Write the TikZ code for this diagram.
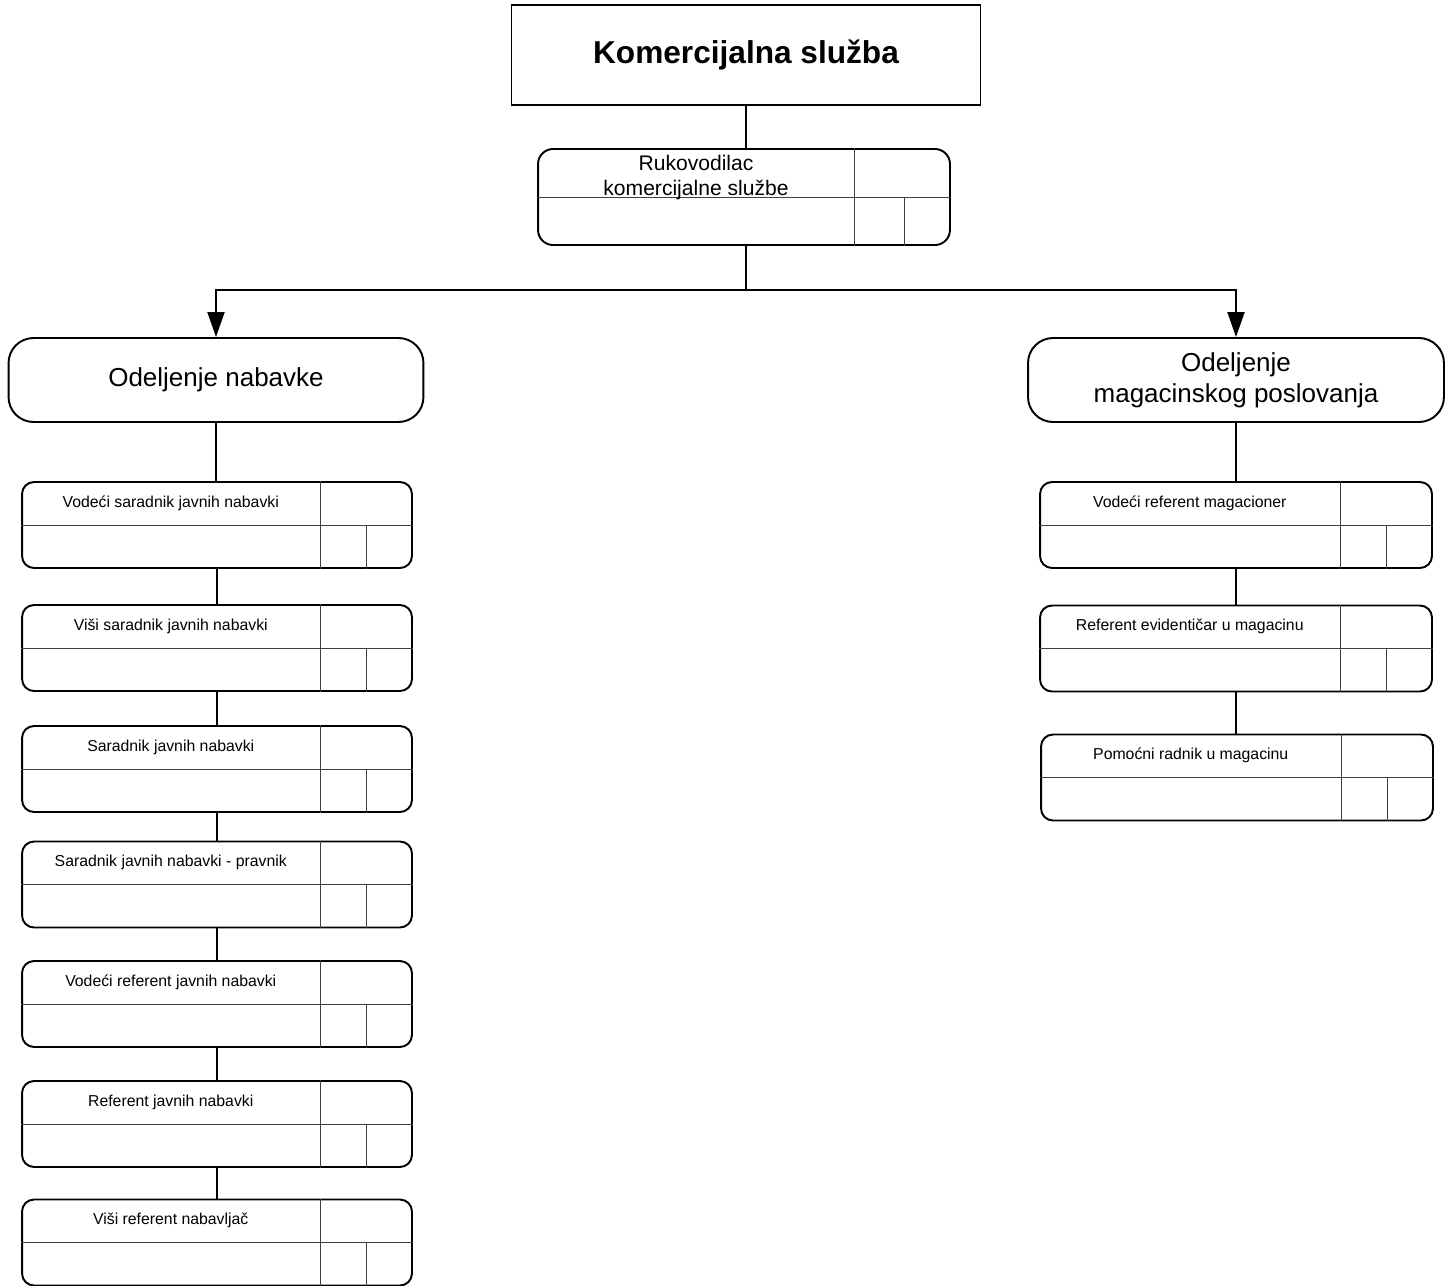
\documentclass[tikz,border=0pt]{standalone}
\usepackage{fontspec}
\setmainfont{Liberation Sans}
\usetikzlibrary{calc,arrows.meta}
\tikzset{polje/.store in=\poljesirina, polje=1.85cm}
% radno mesto: okvir sa poljima, naziv u gornjem levom polju
\newcommand{\radnik}[4][]{%
\node[radbox,#1] (#2) at #3 {};
\draw[pregrada] (#2.west)--(#2.east);
\draw[pregrada] ([xshift=-\poljesirina]#2.north east)--([xshift=-\poljesirina]#2.south east);
\draw[pregrada] ([xshift=-0.92cm]#2.east)--([xshift=-0.92cm]#2.south east);
\node[radtekst] (#2-t) at ($(#2.north west)!.5!([xshift=-\poljesirina]#2.east)$) {#4};
}
\begin{document}
\begin{tikzpicture}[x=0.02cm,y=-0.02cm,
  sluzba/.style={draw, line width=.6pt, minimum width=9.38cm, minimum height=2cm, font=\fontsize{18}{22}\selectfont\bfseries},
  odeljenje/.style={draw, line width=1.1pt, rounded corners=0.5cm, minimum width=8.3cm, minimum height=1.68cm, align=center, font=\fontsize{14.8}{17.6}\selectfont},
  radbox/.style={draw, line width=1.1pt, rounded corners=0.24cm, minimum width=7.8cm, minimum height=1.72cm, inner sep=0},
  radtekst/.style={inner sep=0, align=center, font=\fontsize{9}{11}\selectfont},
  pregrada/.style={line width=.55pt, black!75},
  veza/.style={line width=1.1pt},
  strelica/.style={veza, -{Triangle[length=0.5cm,width=0.34cm]}}]
\useasboundingbox (0,0) rectangle (1447,1285);
\node[sluzba] (ks) at (746,55) {Komercijalna služba};
\begin{scope}[polje=1.92cm, radtekst/.append style={font=\fontsize{12}{14.2}\selectfont, yshift=-0.1cm}]
\radnik[minimum width=8.24cm, minimum height=1.92cm, rounded corners=0.3cm]{ruk}{(744,197)}{Rukovodilac\\komercijalne službe}
\end{scope}
\node[odeljenje] (nab) at (216,380) {Odeljenje nabavke};
\node[odeljenje, minimum width=8.32cm] (mag) at (1236,380) {Odeljenje\\magacinskog poslovanja};
\coordinate (razvod) at (746,290);
\draw[veza] (ks.south)--(ks.south |- ruk.north);
\draw[veza] (ruk.south -| ks.south)--(razvod);
\draw[strelica] (razvod) -| (nab.north);
\draw[strelica] (razvod) -| (mag.north);
% odeljenje nabavke
\radnik{n1}{(217,525)}{Vodeći saradnik javnih nabavki}
\radnik{n2}{(217,648)}{Viši saradnik javnih nabavki}
\radnik{n3}{(217,769)}{Saradnik javnih nabavki}
\radnik{n4}{(217,884.5)}{Saradnik javnih nabavki - pravnik}
\radnik{n5}{(217,1004)}{Vodeći referent javnih nabavki}
\radnik{n6}{(217,1124)}{Referent javnih nabavki}
\radnik{n7}{(217,1242.5)}{Viši referent nabavljač}
\draw[veza] (nab.south)--(nab.south |- n1.north);
\foreach \a/\b in {n1/n2,n2/n3,n3/n4,n4/n5,n5/n6,n6/n7}
  \draw[veza] (\a.south)--(\b.north);
% odeljenje magacinskog poslovanja
\radnik[minimum width=7.84cm]{m1}{(1236,525)}{Vodeći referent magacioner}
\radnik[minimum width=7.84cm]{m2}{(1236,648.5)}{Referent evidentičar u magacinu}
\radnik[minimum width=7.84cm]{m3}{(1237,777.5)}{Pomoćni radnik u magacinu}
\draw[veza] (mag.south)--(m1.north);
\draw[veza] (m1.south)--(m2.north);
\draw[veza] (m2.south)--(m2.south |- m3.north);
\end{tikzpicture}
\end{document}
